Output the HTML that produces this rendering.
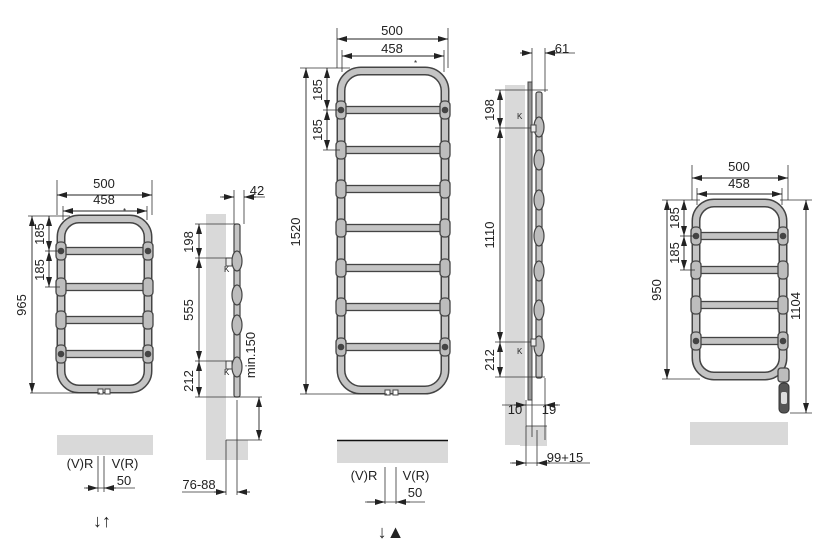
<!DOCTYPE html>
<html><head><meta charset="utf-8">
<style>html,body{margin:0;padding:0;background:#fff}svg{display:block}text{font-family:"Liberation Sans",sans-serif;fill:#222}</style>
</head><body>
<svg id="s" width="825" height="548" viewBox="0 0 825 548" xmlns="http://www.w3.org/2000/svg">
<defs>
<marker id="a" viewBox="0 0 10 6" refX="10" refY="3" markerWidth="10" markerHeight="6" orient="auto-start-reverse" markerUnits="userSpaceOnUse"><path d="M0,0L10,3L0,6z" fill="#222"/></marker>
</defs>
<rect x="206" y="214" width="20" height="246" fill="#d9d9d9"/>
<rect x="222" y="440" width="26" height="20" fill="#d9d9d9"/>
<rect x="505" y="85" width="20" height="360" fill="#d9d9d9"/>
<rect x="520" y="426" width="27" height="20" fill="#d9d9d9"/>
<rect x="57" y="435" width="96" height="20" fill="#d9d9d9"/>
<rect x="337" y="441" width="111" height="22" fill="#d9d9d9"/>
<line x1="337" y1="440.5" x2="448" y2="440.5" stroke="#111" stroke-width="1.5"/>
<rect x="690" y="422" width="98" height="23" fill="#d9d9d9"/>
<g id="g"></g>
<g font-size="13">
<text x="104" y="188" text-anchor="middle">500</text>
<text x="104" y="204" text-anchor="middle">458</text>
<text x="392" y="35" text-anchor="middle">500</text>
<text x="392" y="53" text-anchor="middle">458</text>
<text x="739" y="171" text-anchor="middle">500</text>
<text x="739" y="188" text-anchor="middle">458</text>
<text x="257" y="195" text-anchor="middle">42</text>
<text x="562" y="53" text-anchor="middle">61</text>
<text x="80" y="468" text-anchor="middle">(V)R</text>
<text x="125" y="468" text-anchor="middle">V(R)</text>
<text x="124" y="485" text-anchor="middle">50</text>
<text x="364" y="480" text-anchor="middle">(V)R</text>
<text x="416" y="480" text-anchor="middle">V(R)</text>
<text x="415" y="497" text-anchor="middle">50</text>
<text x="199" y="489" text-anchor="middle">76-88</text>
<text x="515" y="414" text-anchor="middle">10</text>
<text x="549" y="414" text-anchor="middle">19</text>
<text x="565" y="462" text-anchor="middle">99+15</text>
</g>
<g font-size="8"><text x="123" y="214">*</text><text x="414" y="66">*</text>
<text x="224" y="272">K</text><text x="224" y="375">K</text><text x="517" y="119">K</text><text x="517" y="354">K</text></g>
<g font-size="18"><text x="102" y="527" text-anchor="middle">↓↑</text><text x="391" y="538" text-anchor="middle">↓▲</text></g>
</svg>
<script>
var G=document.getElementById('g'),NS='http://www.w3.org/2000/svg';
function el(t,a,p){var e=document.createElementNS(NS,t);for(var k in a)e.setAttribute(k,a[k]);(p||G).appendChild(e);return e;}
function ln(x1,y1,x2,y2,w,c){el('line',{x1:x1,y1:y1,x2:x2,y2:y2,stroke:c||'#333','stroke-width':w||0.8});}
function arr(x1,y1,x2,y2){el('line',{x1:x1,y1:y1,x2:x2,y2:y2,stroke:'#222','stroke-width':0.9,'marker-start':'url(#a)','marker-end':'url(#a)'});}
function vt(x,y,s){var t=el('text',{x:x,y:y,'font-size':13,'text-anchor':'middle',transform:'rotate(-90 '+x+' '+y+')'});t.textContent=s;}
function rad(x0,x1,y0,y1,bars,dots,r){
 el('rect',{x:x0+4,y:y0+4,width:x1-x0-8,height:y1-y0-8,rx:r,fill:'none',stroke:'#444','stroke-width':9});
 el('rect',{x:x0+4,y:y0+4,width:x1-x0-8,height:y1-y0-8,rx:r,fill:'none',stroke:'#c4c4c4','stroke-width':6});
 bars.forEach(function(y,i){
  el('rect',{x:x0+4,y:y-3.5,width:x1-x0-8,height:7,fill:'#c4c4c4',stroke:'#444','stroke-width':1.3});
  [x0+4,x1-4].forEach(function(x){
   el('rect',{x:x-5,y:y-9,width:10,height:18,rx:4,fill:'#bdbdbd',stroke:'#444','stroke-width':1.3});
   if(dots.indexOf(i)>=0){el('circle',{cx:x,cy:y,r:3.3,fill:'#444'});}
  });
 });
}
rad(57,152,215,393,[251,287,320,354],[0,3],18);
el('rect',{x:98,y:389,width:5,height:5,fill:'#fff',stroke:'#444','stroke-width':1});
el('rect',{x:105,y:389,width:5,height:5,fill:'#fff',stroke:'#444','stroke-width':1});
rad(337,449,67,394,[110,150,189,228,268,307,347],[0,6],20);
el('rect',{x:385,y:390,width:5,height:5,fill:'#fff',stroke:'#444','stroke-width':1});
el('rect',{x:393,y:390,width:5,height:5,fill:'#fff',stroke:'#444','stroke-width':1});
rad(692,787,199,380,[236,270,305,341],[0,3],18);
el('rect',{x:778,y:368,width:11,height:14,rx:3,fill:'#bdbdbd',stroke:'#444','stroke-width':1.3});
el('rect',{x:779,y:383,width:10,height:30,rx:4,fill:'#555',stroke:'#333','stroke-width':1});
el('rect',{x:781,y:392,width:6,height:12,rx:2,fill:'#ddd'});

ln(57,180,57,215);ln(152,180,152,215);arr(57,195,152,195);
ln(63,206,63,220);ln(147,206,147,220);arr(63,211,147,211);
ln(28,216,70,216);ln(30,393,100,393);arr(32,216,32,393);vt(26,305,'965');
ln(45,251,60,251);ln(45,287,60,287);arr(49,216,49,251);arr(49,251,49,287);vt(44,234,'185');vt(44,270,'185');
el('rect',{x:234,y:224,width:6,height:173,rx:2,fill:'#c4c4c4',stroke:'#444','stroke-width':1.2});
[261,295,325,367].forEach(function(y){el('ellipse',{cx:237,cy:y,rx:5,ry:10,fill:'#bdbdbd',stroke:'#444','stroke-width':1.2});});
el('rect',{x:226,y:258,width:6,height:8,fill:'#eee',stroke:'#444','stroke-width':1});
el('rect',{x:226,y:361,width:6,height:8,fill:'#eee',stroke:'#444','stroke-width':1});
ln(234,190,234,224);ln(244,190,244,224);ln(220,197,234,197);ln(244,197,265,197);
el('line',{x1:222,y1:197,x2:234,y2:197,stroke:'#222','stroke-width':0.9,'marker-end':'url(#a)'});
el('line',{x1:256,y1:197,x2:244,y2:197,stroke:'#222','stroke-width':0.9,'marker-end':'url(#a)'});
ln(195,224,236,224);ln(195,258,230,258);ln(195,361,230,361);ln(195,397,262,397);
arr(199,224,199,258);arr(199,258,199,361);arr(199,361,199,397);
vt(193,242,'198');vt(193,310,'555');vt(193,381,'212');
ln(226,440,262,440);arr(259,397,259,440);vt(255,355,'min.150');
ln(226,440,226,495);ln(237,400,237,495);ln(182,492,226,492);
el('line',{x1:214,y1:492,x2:226,y2:492,stroke:'#222','stroke-width':0.9,'marker-end':'url(#a)'});
el('line',{x1:250,y1:492,x2:237,y2:492,stroke:'#222','stroke-width':0.9,'marker-end':'url(#a)'});
ln(98,456,98,492);ln(104,456,104,492);ln(84,488,135,488);
el('line',{x1:86,y1:488,x2:98,y2:488,stroke:'#222','stroke-width':0.9,'marker-end':'url(#a)'});
el('line',{x1:116,y1:488,x2:104,y2:488,stroke:'#222','stroke-width':0.9,'marker-end':'url(#a)'});

ln(337,28,337,68);ln(448,28,448,68);arr(337,39,448,39);
ln(342,50,342,72);ln(444,50,444,72);arr(342,56,444,56);
ln(300,68,350,68);ln(300,394,387,394);arr(306,68,306,394);vt(300,232,'1520');
ln(323,110,340,110);ln(323,150,340,150);arr(327,68,327,110);arr(327,110,327,150);vt(322,90,'185');vt(322,130,'185');
el('rect',{x:528,y:82,width:4,height:318,fill:'#999',stroke:'#444','stroke-width':1});
el('rect',{x:536,y:92,width:6,height:286,rx:2,fill:'#c4c4c4',stroke:'#444','stroke-width':1.2});
[127,160,200,236,271,310,346].forEach(function(y){el('ellipse',{cx:539,cy:y,rx:5,ry:10,fill:'#bdbdbd',stroke:'#444','stroke-width':1.2});});
el('rect',{x:531,y:125,width:5,height:7,fill:'#eee',stroke:'#444','stroke-width':1});
el('rect',{x:531,y:339,width:5,height:7,fill:'#eee',stroke:'#444','stroke-width':1});
ln(532,48,532,82);ln(545,48,545,92);ln(522,53,532,53);ln(545,53,575,53);
el('line',{x1:520,y1:53,x2:532,y2:53,stroke:'#222','stroke-width':0.9,'marker-end':'url(#a)'});
el('line',{x1:557,y1:53,x2:545,y2:53,stroke:'#222','stroke-width':0.9,'marker-end':'url(#a)'});
ln(495,90,548,90);ln(495,128,531,128);ln(495,342,531,342);ln(495,377,545,377);
arr(500,90,500,128);arr(500,128,500,342);arr(500,342,500,377);
vt(494,110,'198');vt(494,235,'1110');vt(494,360,'212');
ln(526,400,526,440);ln(532,400,532,405);ln(545,378,545,440);ln(532,405,532,437);
ln(502,405,560,405);
el('line',{x1:514,y1:405,x2:526,y2:405,stroke:'#222','stroke-width':0.9,'marker-end':'url(#a)'});
el('line',{x1:558,y1:405,x2:545,y2:405,stroke:'#222','stroke-width':0.9,'marker-end':'url(#a)'});
ln(526,426,547,426);ln(526,440,526,466);ln(537,430,537,466);ln(510,463,590,463);
el('line',{x1:512,y1:463,x2:526,y2:463,stroke:'#222','stroke-width':0.9,'marker-end':'url(#a)'});
el('line',{x1:550,y1:463,x2:537,y2:463,stroke:'#222','stroke-width':0.9,'marker-end':'url(#a)'});
ln(385,467,385,504);ln(396,467,396,504);ln(365,502,425,502);
el('line',{x1:367,y1:502,x2:385,y2:502,stroke:'#222','stroke-width':0.9,'marker-end':'url(#a)'});
el('line',{x1:410,y1:502,x2:396,y2:502,stroke:'#222','stroke-width':0.9,'marker-end':'url(#a)'});

ln(692,165,692,200);ln(788,165,788,200);arr(692,178,788,178);
ln(697,188,697,205);ln(782,188,782,205);arr(697,194,782,194);
ln(662,200,700,200);ln(662,379,700,379);arr(667,200,667,379);vt(661,290,'950');
ln(680,236,695,236);ln(680,270,695,270);arr(684,200,684,236);arr(684,236,684,270);vt(679,218,'185');vt(679,253,'185');
ln(780,200,812,200);ln(790,413,812,413);arr(806,200,806,413);vt(800,306,'1104');
</script>
</body></html>
